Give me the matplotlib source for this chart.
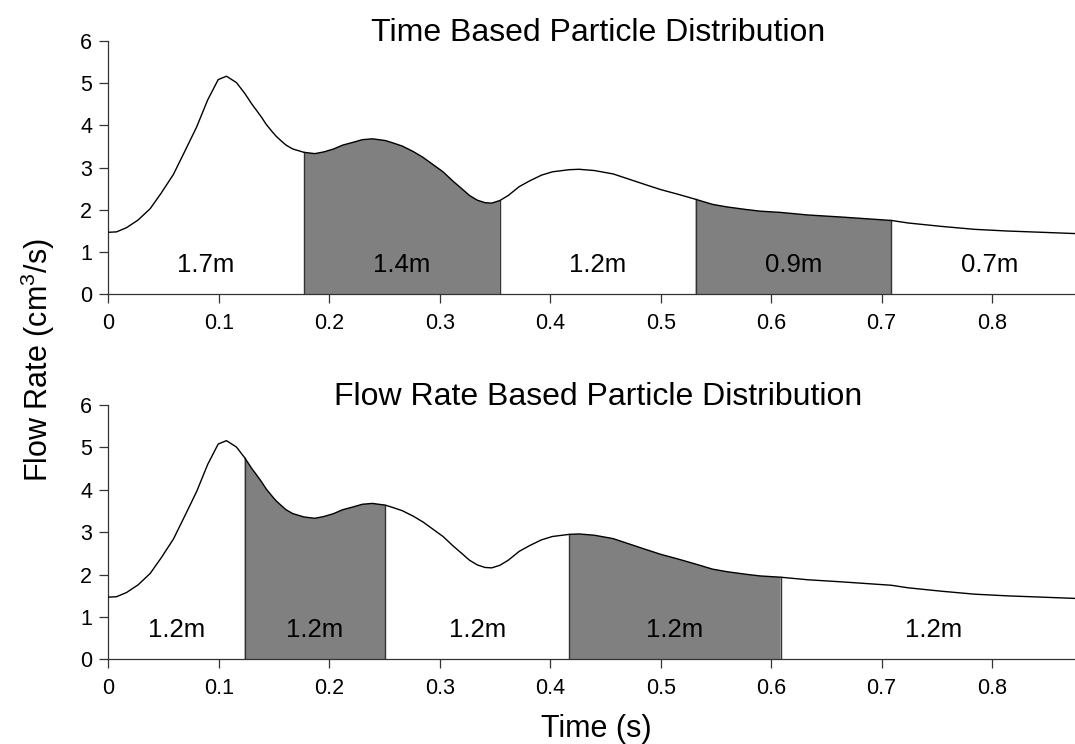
import numpy as np
import matplotlib
matplotlib.use('Agg')
import matplotlib.pyplot as plt

plt.rcParams['font.family'] = ['Liberation Sans', 'DejaVu Sans']
plt.rcParams['mathtext.default'] = 'regular'

# flow rate waveform (s, cm^3/s)
time = [0.0, 0.0075, 0.0166, 0.027, 0.038, 0.048, 0.059, 0.069, 0.080, 0.090,
        0.0995, 0.107, 0.116, 0.1234, 0.130, 0.134, 0.139, 0.143, 0.148, 0.152,
        0.157, 0.161, 0.167, 0.1772, 0.187, 0.195, 0.204, 0.212, 0.222, 0.230,
        0.239, 0.2507, 0.258, 0.266, 0.276, 0.285, 0.294, 0.303, 0.312, 0.320,
        0.327, 0.334, 0.341, 0.347, 0.3544, 0.362, 0.372, 0.381, 0.392, 0.402,
        0.4172, 0.426, 0.440, 0.457, 0.472, 0.487, 0.500, 0.517, 0.5316, 0.547,
        0.560, 0.577, 0.590, 0.6085, 0.633, 0.664, 0.7088, 0.724, 0.754, 0.784,
        0.814, 0.845, 0.875]
flow = [1.47, 1.48, 1.58, 1.76, 2.03, 2.40, 2.84, 3.37, 3.96, 4.60,
        5.08, 5.16, 5.01, 4.76, 4.50, 4.36, 4.18, 4.02, 3.86, 3.74,
        3.62, 3.53, 3.44, 3.36, 3.33, 3.37, 3.44, 3.53, 3.60, 3.66,
        3.68, 3.64, 3.58, 3.51, 3.38, 3.24, 3.07, 2.90, 2.68, 2.50,
        2.34, 2.23, 2.17, 2.16, 2.22, 2.34, 2.55, 2.68, 2.82, 2.90,
        2.95, 2.96, 2.93, 2.85, 2.72, 2.59, 2.48, 2.36, 2.25, 2.13,
        2.07, 2.01, 1.97, 1.94, 1.88, 1.83, 1.75, 1.69, 1.61, 1.54,
        1.50, 1.47, 1.44]

period = 0.886

# segment boundaries for each distribution
time_edges = [0.0, 0.1772, 0.3544, 0.5316, 0.7088, period]
time_labels = ['1.7m', '1.4m', '1.2m', '0.9m', '0.7m']
flow_edges = [0.0, 0.1234, 0.2507, 0.4172, 0.6085, period]
flow_labels = ['1.2m', '1.2m', '1.2m', '1.2m', '1.2m']

titles = ['Time Based Particle Distribution', 'Flow Rate Based Particle Distribution']

x_ticks = [0, 0.1, 0.2, 0.3, 0.4, 0.5, 0.6, 0.7, 0.8]
x_ticklabels = ['0', '0.1', '0.2', '0.3', '0.4', '0.5', '0.6', '0.7', '0.8']
y_ticks = [0, 1, 2, 3, 4, 5, 6]

t = np.array(time)
q = np.array(flow)

fig = plt.figure(figsize=(10.75, 7.44), dpi=100)
ax_top = fig.add_axes([0.1007, 0.6042, 0.8993, 0.3411])
ax_bot = fig.add_axes([0.1007, 0.1136, 0.8993, 0.3420])

for ax, edges, labels, title in [(ax_top, time_edges, time_labels, titles[0]),
                                 (ax_bot, flow_edges, flow_labels, titles[1])]:
    for i in range(len(edges) - 1):
        a, b = edges[i], edges[i + 1]
        if i % 2 == 1:
            mask = (t >= a - 1e-9) & (t <= b + 1e-9)
            ax.fill_between(t[mask], 0, q[mask], facecolor='#808080',
                            edgecolor='none', zorder=1)
            # vertical edges of the shaded block
            for e in (a, b):
                ax.plot([e, e], [0, q[np.argmin(np.abs(t - e))]],
                        color='#333333', lw=1.0, zorder=2)
        ax.text((a + b) / 2, 0.52, labels[i], ha='center', va='baseline',
                fontsize=18.5, color='black', zorder=3)

    ax.plot(t, q, color='black', lw=1.0, zorder=4)

    ax.set_xlim(0, 0.875)
    ax.set_ylim(0, 6)
    ax.set_xticks(x_ticks)
    ax.set_xticklabels(x_ticklabels)
    ax.set_yticks(y_ticks)
    ax.tick_params(axis='both', direction='out', length=6.5, width=0.9,
                   color='#333333', labelsize=15.5)
    ax.tick_params(axis='x', pad=7)
    ax.tick_params(axis='y', pad=5)
    for side in ['top', 'right']:
        ax.spines[side].set_visible(False)
    for side in ['left', 'bottom']:
        ax.spines[side].set_color('#333333')
        ax.spines[side].set_linewidth(0.9)
    ax.text(0.507, 1.0, title, transform=ax.transAxes, ha='center',
            va='baseline', fontsize=23)

fig.text(0.0353, 0.516, r'Flow Rate (cm$^3$/s)', rotation=90, ha='center',
         va='center', fontsize=22)
fig.text(0.555, 0.010, 'Time (s)', ha='center', va='baseline', fontsize=22)

fig.savefig('out.png', dpi=100)
